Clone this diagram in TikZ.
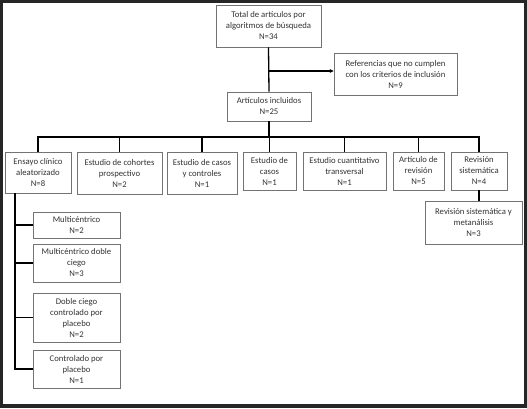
\documentclass[tikz,border=0pt]{standalone}
\usepackage{fontspec}
\setmainfont{Carlito}
\usetikzlibrary{arrows.meta}
\tikzset{
  box/.style={draw=black!55, line width=0.7pt, align=center, inner sep=0pt,
    text=black!80, font=\fontsize{8.7}{11}\selectfont},
  conn/.style={draw=black, line width=1.3pt},
}
\begin{document}
\begin{tikzpicture}[x=1pt,y=-1pt]
\fill[black!85] (0,0) rectangle (527,408);
\fill[white] (3,3) rectangle (524,404);

\node[box, minimum width=105pt, minimum height=42pt] (top) at (268.5,26) {Total de artículos por\\algoritmos de búsqueda\\N=34};
\node[box, minimum width=123pt, minimum height=42pt] (ref) at (395.5,74) {Referencias que no cumplen\\con los criterios de inclusión\\N=9};
\node[box, minimum width=84pt, minimum height=29pt] (inc) at (269,106.5) {Artículos incluidos\\N=25};

\node[box, minimum width=66pt, minimum height=41pt] (e1) at (38,172.5) {Ensayo clínico\\aleatorizado\\N=8};
\node[box, minimum width=85pt, minimum height=42pt] (e2) at (119.5,173) {Estudio de cohortes\\prospectivo\\N=2};
\node[box, minimum width=70pt, minimum height=42pt] (e3) at (202,173) {Estudio de casos\\y controles\\N=1};
\node[box, minimum width=53pt, minimum height=38pt] (e4) at (269.5,171) {Estudio de\\casos\\N=1};
\node[box, minimum width=83pt, minimum height=38pt] (e5) at (344.5,171) {Estudio cuantitativo\\transversal\\N=1};
\node[box, minimum width=51pt, minimum height=38pt] (e6) at (418.5,171) {Artículo de\\revisión\\N=5};
\node[box, minimum width=56pt, minimum height=38pt] (e7) at (479,171) {Revisión\\sistemática\\N=4};
\node[box, minimum width=97pt, minimum height=43pt] (meta) at (473.5,222.5) {Revisión sistemática y\\metanálisis\\N=3};

\node[box, minimum width=87pt, minimum height=26pt] (s1) at (76.5,225) {Multicéntrico\\N=2};
\node[box, minimum width=87pt, minimum height=38pt] (s2) at (76.5,263) {Multicéntrico doble\\ciego\\N=3};
\node[box, minimum width=87pt, minimum height=49pt] (s3) at (76.5,317.5) {Doble ciego\\controlado por\\placebo\\N=2};
\node[box, minimum width=87pt, minimum height=38pt] (s4) at (76.5,369) {Controlado por\\placebo\\N=1};

\coordinate (split) at (269,71);
\coordinate (bus) at (269,137);
\coordinate (trunk) at (15,193);

\draw[conn] (top.south) -- (inc.north);
\draw[conn, -{Stealth[length=4pt,width=4pt]}] (split) -- (ref.west |- split);
\draw[conn] (inc.south) -- (bus);
\foreach \n in {e1,e2,e3,e4,e5,e6,e7} \draw[conn] (\n.north) |- (bus);
\draw[conn] (e7.south) -- (e7.south |- meta.north);
\foreach \n in {s1,s2,s3,s4} \draw[conn] (trunk) |- (\n.west);
\end{tikzpicture}
\end{document}
